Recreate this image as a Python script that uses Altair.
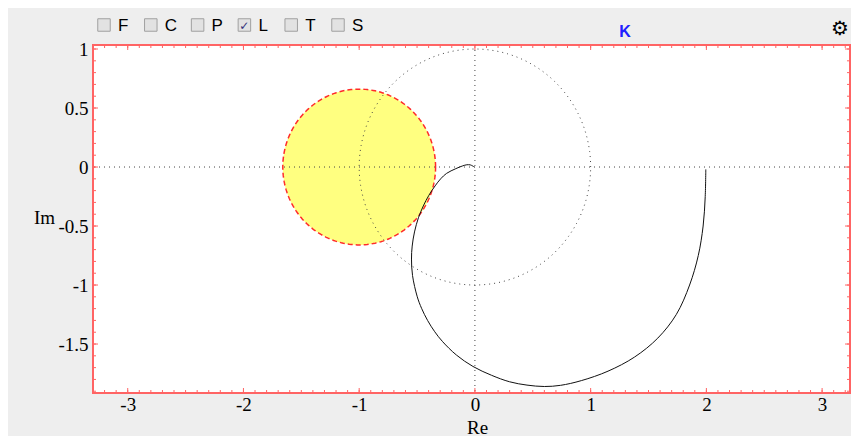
import altair as alt
import numpy as np
import pandas as pd

# ---- data -------------------------------------------------------------
NYQ_RE = [1.995, 1.99, 1.972, 1.93, 1.855, 1.74, 1.58, 1.38, 1.15, 0.92, 0.74,
          0.60, 0.45, 0.30, 0.144, -0.017, -0.16, -0.279, -0.347, -0.409, -0.461, -0.498,
          -0.539, -0.548, -0.542, -0.522, -0.488, -0.446, -0.398, -0.344, -0.296,
          -0.245, -0.165, -0.105, -0.07, -0.04, -0.018, -0.005]
NYQ_IM = [-0.02, -0.25, -0.50, -0.75, -1.00, -1.25, -1.45, -1.61, -1.73, -1.81, -1.85,
          -1.86, -1.848, -1.82, -1.765, -1.69, -1.593, -1.48, -1.396, -1.30, -1.197, -1.10,
          -0.92, -0.78, -0.67, -0.55, -0.43, -0.33, -0.24, -0.16, -0.10,
          -0.054, -0.014, 0.010, 0.019, 0.018, 0.008, 0.0]

UNIT_CIRCLE_RADIUS = 1.0
DISK_CENTER = -1.0          # circle around the critical point -1
DISK_RADIUS = 0.66

X_LABEL_VALUES = [-3, -2, -1, 0, 1, 2, 3]
Y_LABEL_VALUES = [-1.5, -1, -0.5, 0, 0.5, 1]
X_MINOR = [round(v / 10, 1) for v in range(-33, 33)]
Y_MINOR = [round(v / 10, 1) for v in range(-19, 11)]

LABELS = ["F", "C", "P", "L", "T", "S"]
CHECKED = [False, False, False, True, False, False]

# ---- tables ------------------------------------------------------------
curve = pd.DataFrame({"re": NYQ_RE, "im": NYQ_IM, "i": range(len(NYQ_RE))})

ang = np.linspace(0, 2 * np.pi, 241)
unit = pd.DataFrame({"x": UNIT_CIRCLE_RADIUS * np.cos(ang),
                     "y": UNIT_CIRCLE_RADIUS * np.sin(ang), "i": range(len(ang))})
disk_outline = pd.DataFrame({"x": DISK_CENTER + DISK_RADIUS * np.cos(ang),
                             "y": DISK_RADIUS * np.sin(ang), "i": range(len(ang))})
half = np.linspace(0, np.pi, 121)
disk_fill = pd.DataFrame({"x": DISK_CENTER + DISK_RADIUS * np.cos(half),
                          "yu": DISK_RADIUS * np.sin(half),
                          "yl": -DISK_RADIUS * np.sin(half)})
zero = pd.DataFrame({"v": [0.0]})
xmin = pd.DataFrame({"v": X_MINOR})
xmaj = pd.DataFrame({"v": X_LABEL_VALUES})
ymin = pd.DataFrame({"v": Y_MINOR})
ymaj = pd.DataFrame({"v": Y_LABEL_VALUES})
boxes = pd.DataFrame({"label": LABELS, "checked": CHECKED})

# ---- scales / axes -----------------------------------------------------
W, H = 757, 348
SERIF = "Liberation Serif"
xs = alt.Scale(domain=[-3.30, 3.241], nice=False, zero=False)
ys = alt.Scale(domain=[-1.915, 1.034], nice=False, zero=False)
AX = alt.Axis(title="Re", values=X_LABEL_VALUES, labelExpr="toString(datum.value)",
              grid=False, ticks=False, tickSize=0, domain=False, labelFlush=False,
              labelFont=SERIF, labelFontSize=19, labelColor="black", labelPadding=2,
              titleFont=SERIF, titleFontSize=19, titleFontWeight="normal",
              titleColor="black", titlePadding=4, titleX=384)
AY = alt.Axis(title="Im", values=Y_LABEL_VALUES, labelExpr="toString(datum.value)",
              grid=False, ticks=False, tickSize=0, domain=False, labelFlush=False,
              labelFont=SERIF, labelFontSize=19, labelColor="black", labelPadding=5,
              titleFont=SERIF, titleFontSize=19, titleFontWeight="normal",
              titleColor="black", titleAngle=0, titleAlign="center",
              titleBaseline="alphabetic", titleX=-49, titleY=178)


def X(f):
    return alt.X(f, type="quantitative", scale=xs, axis=AX)


def Y(f):
    return alt.Y(f, type="quantitative", scale=ys, axis=AY)


RED = "#ff6464"

fill = alt.Chart(disk_fill).mark_area(color="#ffff80", opacity=1).encode(
    x=X("x"), y=Y("yu"), y2=alt.Y2("yl"))
outline = alt.Chart(disk_outline).mark_line(
    stroke="#ff2a2a", strokeDash=[5, 3], strokeWidth=1.5).encode(
    x=X("x"), y=Y("y"), order="i:Q")
vzero = alt.Chart(zero).mark_rule(stroke="#444444", strokeDash=[1, 4], strokeWidth=1).encode(x=X("v"))
hzero = alt.Chart(zero).mark_rule(stroke="#444444", strokeDash=[1, 4], strokeWidth=1).encode(y=Y("v"))
ucirc = alt.Chart(unit).mark_line(stroke="#444444", strokeDash=[1, 4], strokeWidth=1).encode(
    x=X("x"), y=Y("y"), order="i:Q")
nyq = alt.Chart(curve).mark_line(stroke="#111111", strokeWidth=1, interpolate="catmull-rom").encode(
    x=X("re"), y=Y("im"), order="i:Q")

tick_layers = []
for df, ln in ((xmin, 3), (xmaj, 5)):
    tick_layers.append(alt.Chart(df).mark_rule(stroke=RED, strokeWidth=1).encode(
        x=X("v"), y=alt.value(H), y2=alt.value(H - ln)))
    tick_layers.append(alt.Chart(df).mark_rule(stroke=RED, strokeWidth=1).encode(
        x=X("v"), y=alt.value(0), y2=alt.value(ln)))
for df, ln in ((ymin, 3), (ymaj, 5)):
    tick_layers.append(alt.Chart(df).mark_rule(stroke=RED, strokeWidth=1).encode(
        y=Y("v"), x=alt.value(0), x2=alt.value(ln)))
    tick_layers.append(alt.Chart(df).mark_rule(stroke=RED, strokeWidth=1).encode(
        y=Y("v"), x=alt.value(W), x2=alt.value(W - ln)))

main = alt.layer(fill, vzero, hzero, ucirc, outline, nyq, *tick_layers)

# ---- control strip above the plot ---------------------------------------
bx = alt.X("label:N", scale=alt.Scale(type="point", domain=LABELS, range=[11, 245], padding=0),
           axis=None)
base = alt.Chart(boxes).encode(x=bx)
sq = base.mark_square(size=156, fill="#e2e2e2", stroke="#a0a0a0", strokeWidth=1, opacity=1).encode(
    y=alt.value(-20))
tick = base.transform_filter("datum.checked").mark_text(
    text="✓", font="DejaVu Sans", fontSize=12, fontWeight="bold", color="#33337a",
    baseline="middle", align="center").encode(y=alt.value(-19))
letters = base.mark_text(align="left", dx=14, baseline="alphabetic", font="Liberation Sans",
                         fontSize=17, color="black").encode(text="label:N", y=alt.value(-14))
k = alt.Chart(pd.DataFrame({"t": ["K"]})).mark_text(
    font="Liberation Sans", fontSize=16, fontWeight="bold", color="#2020ff",
    align="center", baseline="alphabetic").encode(text="t:N", x=alt.value(532), y=alt.value(-8))
gear = alt.Chart(pd.DataFrame({"t": ["⚙"]})).mark_text(
    font="DejaVu Sans", fontSize=20, color="black", align="center",
    baseline="middle").encode(text="t:N", x=alt.value(747), y=alt.value(-16))
decor = alt.layer(sq, tick, letters, k, gear)

chart = alt.layer(main, decor).resolve_scale(x="independent").properties(
    width=W, height=H, autosize="none",
    padding={"left": 85, "top": 37, "right": 1, "bottom": 43},
    background="#eeeeee",
).configure_view(fill="white", stroke=RED, strokeWidth=2).configure_axis(
    labelFont=SERIF, labelFontSize=19, titleFont=SERIF, titleFontSize=19)

chart.save("out.html", embed_options={"renderer": "svg", "actions": False})
